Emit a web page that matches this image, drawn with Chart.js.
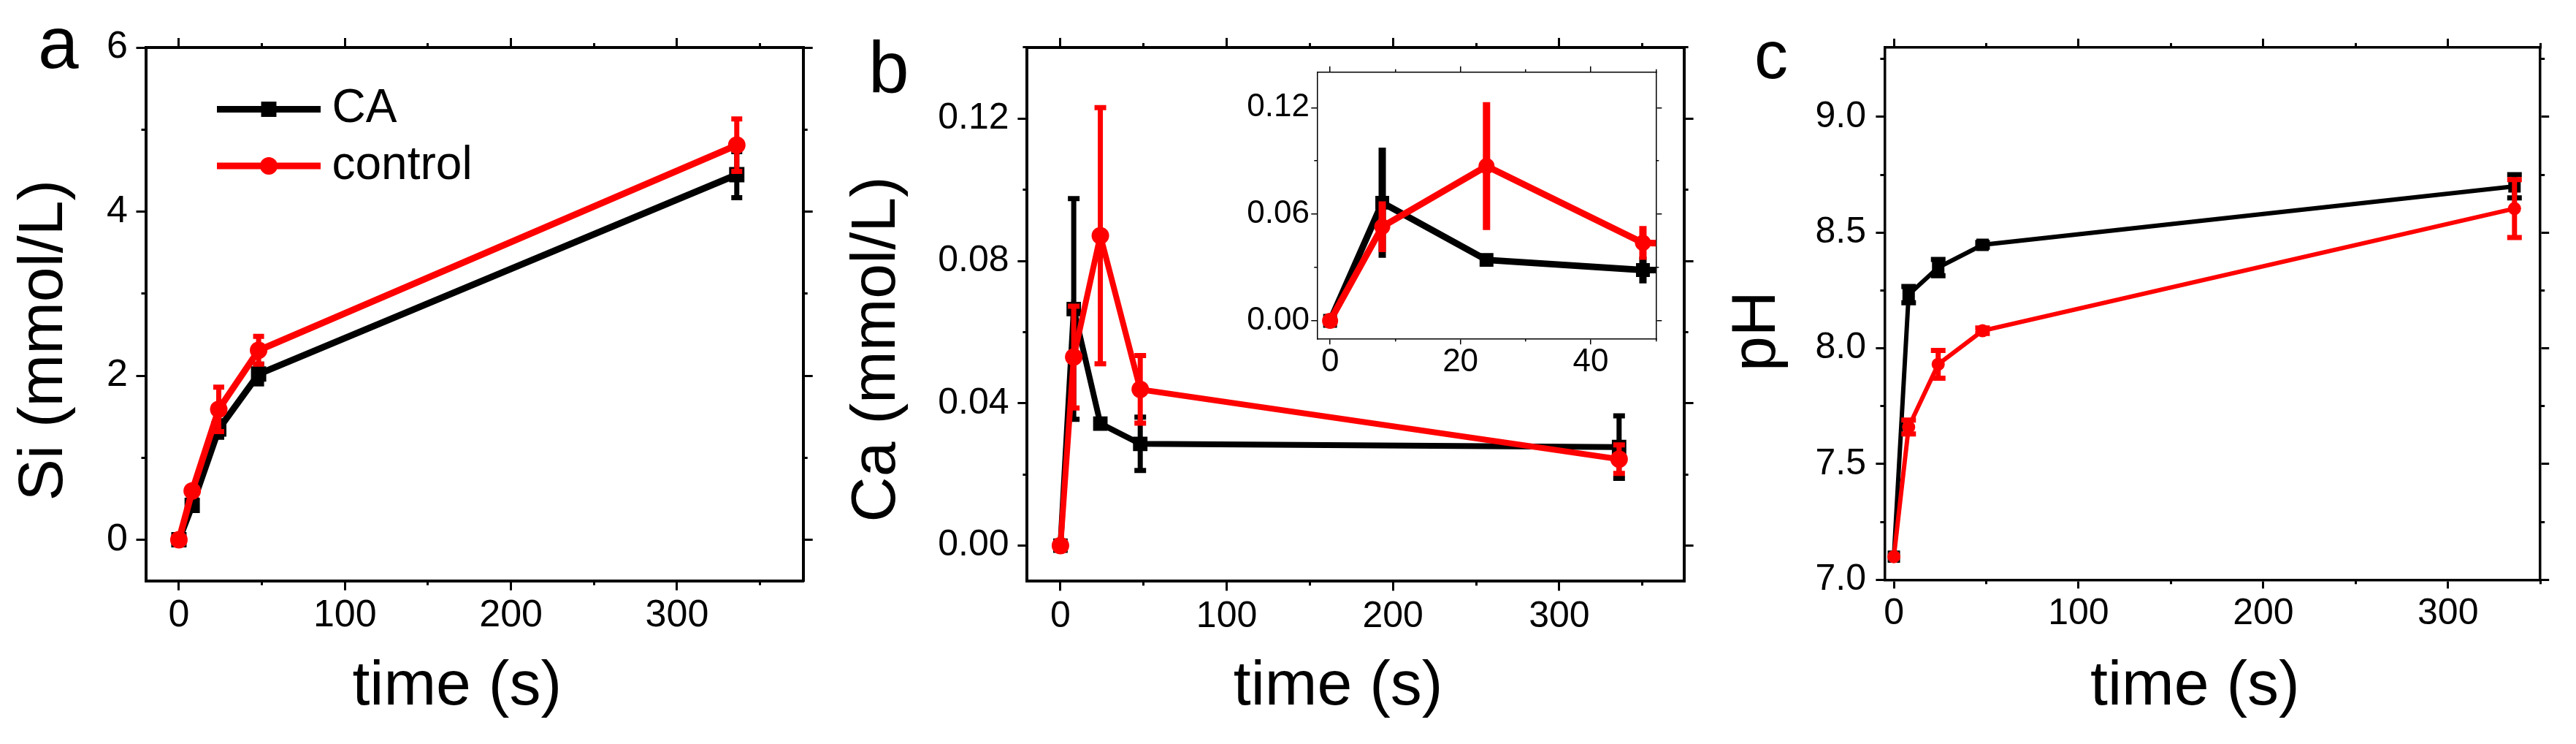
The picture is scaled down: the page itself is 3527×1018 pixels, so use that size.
<!DOCTYPE html>
<html><head><meta charset="utf-8">
<script src="https://cdn.jsdelivr.net/npm/chart.js@4.4.1/dist/chart.umd.min.js"></script>
<style>
html,body{margin:0;padding:0;background:#fff;width:3527px;height:1018px;overflow:hidden}
canvas{position:absolute;display:block}
</style></head><body>
<canvas id="ca" width="1140" height="1018" style="left:0px;top:0px"></canvas>
<canvas id="cb" width="1200" height="1018" style="left:1140px;top:0px"></canvas>
<canvas id="cc" width="1187" height="1018" style="left:2340px;top:0px"></canvas>
<canvas id="ci" width="590" height="490" style="left:1700px;top:70px"></canvas>
<script>
const FONT = "'Liberation Sans', Arial, Helvetica, sans-serif";

// ---- data ----
const seriesNames = ['CA', 'control'];
const time = [0, 8, 24, 48, 336];

const siCA = [0, 0.42, 1.35, 2.02, 4.45];
const siCAErr = [0, 0.05, 0.1, 0.12, 0.28];
const siControl = [0, 0.595, 1.59, 2.31, 4.81];
const siControlErr = [0, 0.04, 0.27, 0.17, 0.32];

const caCA = [0, 0.0665, 0.0343, 0.0286, 0.0277];
const caCAErr = [0, 0.031, 0.0012, 0.0075, 0.0088];
const caControl = [0, 0.053, 0.0871, 0.0439, 0.0243];
const caControlErr = [0, 0.0143, 0.036, 0.0095, 0.004];

const phCA = [7.10, 8.232, 8.349, 8.447, 8.70];
const phCAErr = [0, 0.035, 0.035, 0.01, 0.05];
const phControl = [7.10, 7.66, 7.931, 8.076, 8.604];
const phControlErr = [0, 0.03, 0.06, 0.012, 0.125];

// ---- tick labels ----
const timeTicks = [0, 100, 200, 300];
const timeMinor = [50, 150, 250, 350];
const siTicks = [0, 2, 4, 6];
const siMinor = [1, 3, 5];
const caTicks = [0, 0.04, 0.08, 0.12];
const caMinor = [0.02, 0.06, 0.10, 0.14];
const phTicks = [7.0, 7.5, 8.0, 8.5, 9.0];
const phMinor = [7.25, 7.75, 8.25, 8.75, 9.25];
const insetTimeTicks = [0, 20, 40];
const insetTimeMinor = [10, 30, 50];
const insetCaTicks = [0, 0.06, 0.12];
const insetCaMinor = [0.03, 0.09];

// ---- plugins ----
const errorBars = {
  id: 'errorBars',
  afterDatasetDraw(chart, args, opts) {
    const ds = chart.data.datasets[args.index];
    if (!ds.errors) return;
    const meta = args.meta;
    const xs = chart.scales[meta.xAxisID], ys = chart.scales[meta.yAxisID];
    const ctx = chart.ctx, a = chart.chartArea;
    ctx.save();
    ctx.beginPath(); ctx.rect(a.left, a.top, a.right - a.left, a.bottom - a.top); ctx.clip();
    ctx.strokeStyle = ds.borderColor; ctx.lineWidth = opts.width; ctx.lineCap = 'butt';
    ds.data.forEach((p, i) => {
      const e = ds.errors[i]; if (!e) return;
      const x = xs.getPixelForValue(p.x);
      const y1 = ys.getPixelForValue(p.y + e), y2 = ys.getPixelForValue(p.y - e);
      ctx.beginPath(); ctx.moveTo(x, y1); ctx.lineTo(x, y2); ctx.stroke();
      if (opts.cap > opts.width) {
        ctx.beginPath();
        ctx.moveTo(x - opts.cap / 2, y1); ctx.lineTo(x + opts.cap / 2, y1);
        ctx.moveTo(x - opts.cap / 2, y2); ctx.lineTo(x + opts.cap / 2, y2);
        ctx.stroke();
      }
    });
    ctx.restore();
  }
};

const seriesLegend = {
  id: 'seriesLegend',
  afterDraw(chart, args, o) {
    if (!o.display) return;
    const ctx = chart.ctx, a = chart.chartArea;
    o.items.forEach((di, k) => {
      const ds = chart.data.datasets[di];
      const y = a.top + o.top + k * o.spacing;
      const x1 = a.left + o.left, x2 = x1 + o.length;
      ctx.save();
      ctx.strokeStyle = ds.borderColor; ctx.lineWidth = ds.borderWidth; ctx.lineCap = 'butt';
      ctx.beginPath(); ctx.moveTo(x1, y); ctx.lineTo(x2, y); ctx.stroke();
      ctx.fillStyle = ds.backgroundColor;
      Chart.helpers.drawPoint(ctx, {pointStyle: ds.pointStyle, radius: ds.pointRadius, borderWidth: 0, rotation: 0}, (x1 + x2) / 2, y);
      ctx.fillStyle = '#000';
      ctx.font = o.fontSize + 'px ' + FONT;
      ctx.textBaseline = 'middle'; ctx.textAlign = 'left';
      ctx.fillText(ds.label, x2 + o.gap, y);
      ctx.restore();
    });
  }
};

const panelLabel = {
  id: 'panelLabel',
  afterDraw(chart, args, o) {
    if (!o.text) return;
    const ctx = chart.ctx;
    ctx.save();
    ctx.fillStyle = '#000';
    ctx.font = o.size + 'px ' + FONT;
    ctx.textBaseline = 'alphabetic'; ctx.textAlign = 'left';
    ctx.fillText(o.text, o.x, o.y);
    ctx.restore();
  }
};

// ---- helpers ----
function pts(xs, ys) { return xs.map((t, i) => ({x: t, y: ys[i]})); }

function buildScales(c) {
  const grid = len => ({drawOnChartArea: false, drawTicks: true, tickLength: len, color: '#000', lineWidth: c.tickW, tickWidth: c.tickW, tickColor: '#000'});
  const setTicks = arr => s => { s.ticks = arr.map(v => ({value: v})); };
  const tf = {family: FONT, size: c.tickFont};
  const ttl = {family: FONT, size: c.titleFont, lineHeight: 1.2};
  const brd = {display: true, color: '#000', width: c.borderW};
  const off = {display: false};
  return {
    x: {type: 'linear', position: 'bottom', min: c.xmin, max: c.xmax, weight: 1,
      afterBuildTicks: setTicks(c.xMajor), afterFit: s => { s.height = c.H - c.B; },
      ticks: {display: true, font: tf, color: '#000', padding: c.xLabelPad, maxRotation: 0, autoSkip: false, callback: v => c.xFmt(v)},
      grid: grid(c.majorLen), border: brd,
      title: c.xTitle ? {display: true, text: c.xTitle, color: '#000', font: ttl, padding: {top: 0, bottom: c.xTitlePad}} : {display: false}},
    xm: {type: 'linear', position: 'bottom', min: c.xmin, max: c.xmax, weight: 0,
      afterBuildTicks: setTicks(c.xMinor), afterFit: s => { s.height = 0; },
      ticks: {display: false}, grid: grid(c.minorLen), border: off},
    x2: {type: 'linear', position: 'top', min: c.xmin, max: c.xmax, weight: 1,
      afterBuildTicks: setTicks(c.xMajor), afterFit: s => { s.height = c.T; },
      ticks: {display: false}, grid: grid(c.majorLen), border: brd},
    x2m: {type: 'linear', position: 'top', min: c.xmin, max: c.xmax, weight: 0,
      afterBuildTicks: setTicks(c.xMinor), afterFit: s => { s.height = 0; },
      ticks: {display: false}, grid: grid(c.minorLen), border: off},
    y: {type: 'linear', position: 'left', min: c.ymin, max: c.ymax, weight: 1,
      afterBuildTicks: setTicks(c.yMajor), afterFit: s => { s.width = c.L; },
      ticks: {display: true, font: tf, color: '#000', padding: c.yLabelPad, autoSkip: false, callback: v => c.yFmt(v)},
      grid: grid(c.majorLen), border: brd,
      title: c.yTitle ? {display: true, text: c.yTitle, color: '#000', font: ttl, padding: {top: c.yTitlePad, bottom: 0}} : {display: false}},
    ym: {type: 'linear', position: 'left', min: c.ymin, max: c.ymax, weight: 0,
      afterBuildTicks: setTicks(c.yMinor), afterFit: s => { s.width = 0; },
      ticks: {display: false}, grid: grid(c.minorLen), border: off},
    y2: {type: 'linear', position: 'right', min: c.ymin, max: c.ymax, weight: 1,
      afterBuildTicks: setTicks(c.yMajor), afterFit: s => { s.width = c.W - c.R; },
      ticks: {display: false}, grid: grid(c.majorLen), border: brd},
    y2m: {type: 'linear', position: 'right', min: c.ymin, max: c.ymax, weight: 0,
      afterBuildTicks: setTicks(c.yMinor), afterFit: s => { s.width = 0; },
      ticks: {display: false}, grid: grid(c.minorLen), border: off}
  };
}

function buildDatasets(c, caVals, caErr, ctlVals, ctlErr) {
  return [
    {label: seriesNames[0], data: pts(time, caVals), errors: caErr, xAxisID: 'x', yAxisID: 'y',
      borderColor: '#000000', backgroundColor: '#000000', pointBackgroundColor: '#000000',
      borderWidth: c.lineW, pointStyle: 'rect', pointRadius: c.rectR, pointBorderWidth: 0,
      pointHoverRadius: c.rectR, tension: 0, order: 1, clip: c.clip},
    {label: seriesNames[1], data: pts(time, ctlVals), errors: ctlErr, xAxisID: 'x', yAxisID: 'y',
      borderColor: '#ff0000', backgroundColor: '#ff0000', pointBackgroundColor: '#ff0000',
      borderWidth: c.lineW, pointStyle: 'circle', pointRadius: c.circR, pointBorderWidth: 0,
      pointHoverRadius: c.circR, tension: 0, order: 0, clip: c.clip}
  ];
}

function makeChart(id, c, data, extraPlugins) {
  return new Chart(document.getElementById(id), {
    type: 'line',
    data: {datasets: data},
    options: {
      responsive: false, animation: false, devicePixelRatio: 1, events: [],
      layout: {padding: 0, autoPadding: false},
      scales: buildScales(c),
      plugins: Object.assign({
        legend: {display: false}, tooltip: {enabled: false},
        errorBars: {width: c.errW, cap: c.capW},
        seriesLegend: {display: false},
        panelLabel: {text: null}
      }, extraPlugins)
    },
    plugins: [errorBars, seriesLegend, panelLabel]
  });
}

// ---- panel a ----
const cfgA = {W: 1140, H: 1018, L: 199.5, T: 65, R: 1099.7, B: 794.7,
  xmin: -20, xmax: 376, ymin: -0.5, ymax: 6,
  xMajor: timeTicks, xMinor: timeMinor, yMajor: siTicks, yMinor: siMinor,
  xFmt: v => String(v), yFmt: v => String(v),
  tickFont: 52, titleFont: 86, majorLen: 13, minorLen: 6, tickW: 3, borderW: 4,
  xLabelPad: 4, yLabelPad: 11.5, xTitle: 'time (s)  ', yTitle: 'Si (mmol/L)   ',
  xTitlePad: 26, yTitlePad: 9.4,
  lineW: 9, rectR: 14.8, circR: 12, errW: 7, capW: 15, clip: undefined};
makeChart('ca', cfgA, buildDatasets(cfgA, siCA, siCAErr, siControl, siControlErr), {
  seriesLegend: {display: true, items: [0, 1], left: 97.5, top: 84.5, spacing: 77.5, length: 142, gap: 15.5, fontSize: 64},
  panelLabel: {text: 'a', x: 52, y: 93, size: 100}
});

// ---- panel b ----
const cfgB = {W: 1200, H: 1018, L: 266.4, T: 64.9, R: 1165.6, B: 795.3,
  xmin: -20, xmax: 375, ymin: -0.01, ymax: 0.14,
  xMajor: timeTicks, xMinor: timeMinor, yMajor: caTicks, yMinor: caMinor,
  xFmt: v => String(v), yFmt: v => v.toFixed(2),
  tickFont: 50, titleFont: 86, majorLen: 13, minorLen: 6, tickW: 3, borderW: 4,
  xLabelPad: 6, yLabelPad: 11.8, xTitle: 'time (s)  ', yTitle: 'Ca (mmol/L)    ',
  xTitlePad: 26, yTitlePad: 9.8,
  lineW: 8, rectR: 14, circR: 12, errW: 7, capW: 16, clip: undefined};
makeChart('cb', cfgB, buildDatasets(cfgB, caCA, caCAErr, caControl, caControlErr), {
  panelLabel: {text: 'b', x: 49, y: 127, size: 100}
});

// ---- panel b inset ----
const cfgI = {W: 590, H: 490, L: 103.3, T: 17.7, R: 567.3, B: 393.3,
  xmin: -2, xmax: 50, ymin: -0.01, ymax: 0.14,
  xMajor: insetTimeTicks, xMinor: insetTimeMinor, yMajor: insetCaTicks, yMinor: insetCaMinor,
  xFmt: v => String(v), yFmt: v => v.toFixed(2),
  tickFont: 44, titleFont: 40, majorLen: 8, minorLen: 4, tickW: 1.5, borderW: 1.5,
  xLabelPad: -1.5, yLabelPad: 2.3, xTitle: null, yTitle: null,
  xTitlePad: 0, yTitlePad: 0,
  lineW: 9, rectR: 13.4, circR: 11, errW: 10, capW: 0, clip: 0};
makeChart('ci', cfgI, buildDatasets(cfgI, caCA, caCAErr, caControl, caControlErr), {});

// ---- panel c ----
const cfgC = {W: 1187, H: 1018, L: 240.4, T: 64.9, R: 1138.2, B: 793.3,
  xmin: -5, xmax: 350, ymin: 7.0, ymax: 9.3,
  xMajor: timeTicks, xMinor: timeMinor, yMajor: phTicks, yMinor: phMinor,
  xFmt: v => String(v), yFmt: v => v.toFixed(1),
  tickFont: 50, titleFont: 86, majorLen: 12, minorLen: 6, tickW: 3, borderW: 3.5,
  xLabelPad: 5, yLabelPad: 13.4, xTitle: 'time (s)  ', yTitle: 'pH  ',
  xTitlePad: 26, yTitlePad: 14.4,
  lineW: 6, rectR: 12, circR: 9, errW: 7, capW: 20, clip: undefined};
makeChart('cc', cfgC, buildDatasets(cfgC, phCA, phCAErr, phControl, phControlErr), {
  panelLabel: {text: 'c', x: 62, y: 107, size: 92}
});
</script>
</body></html>
